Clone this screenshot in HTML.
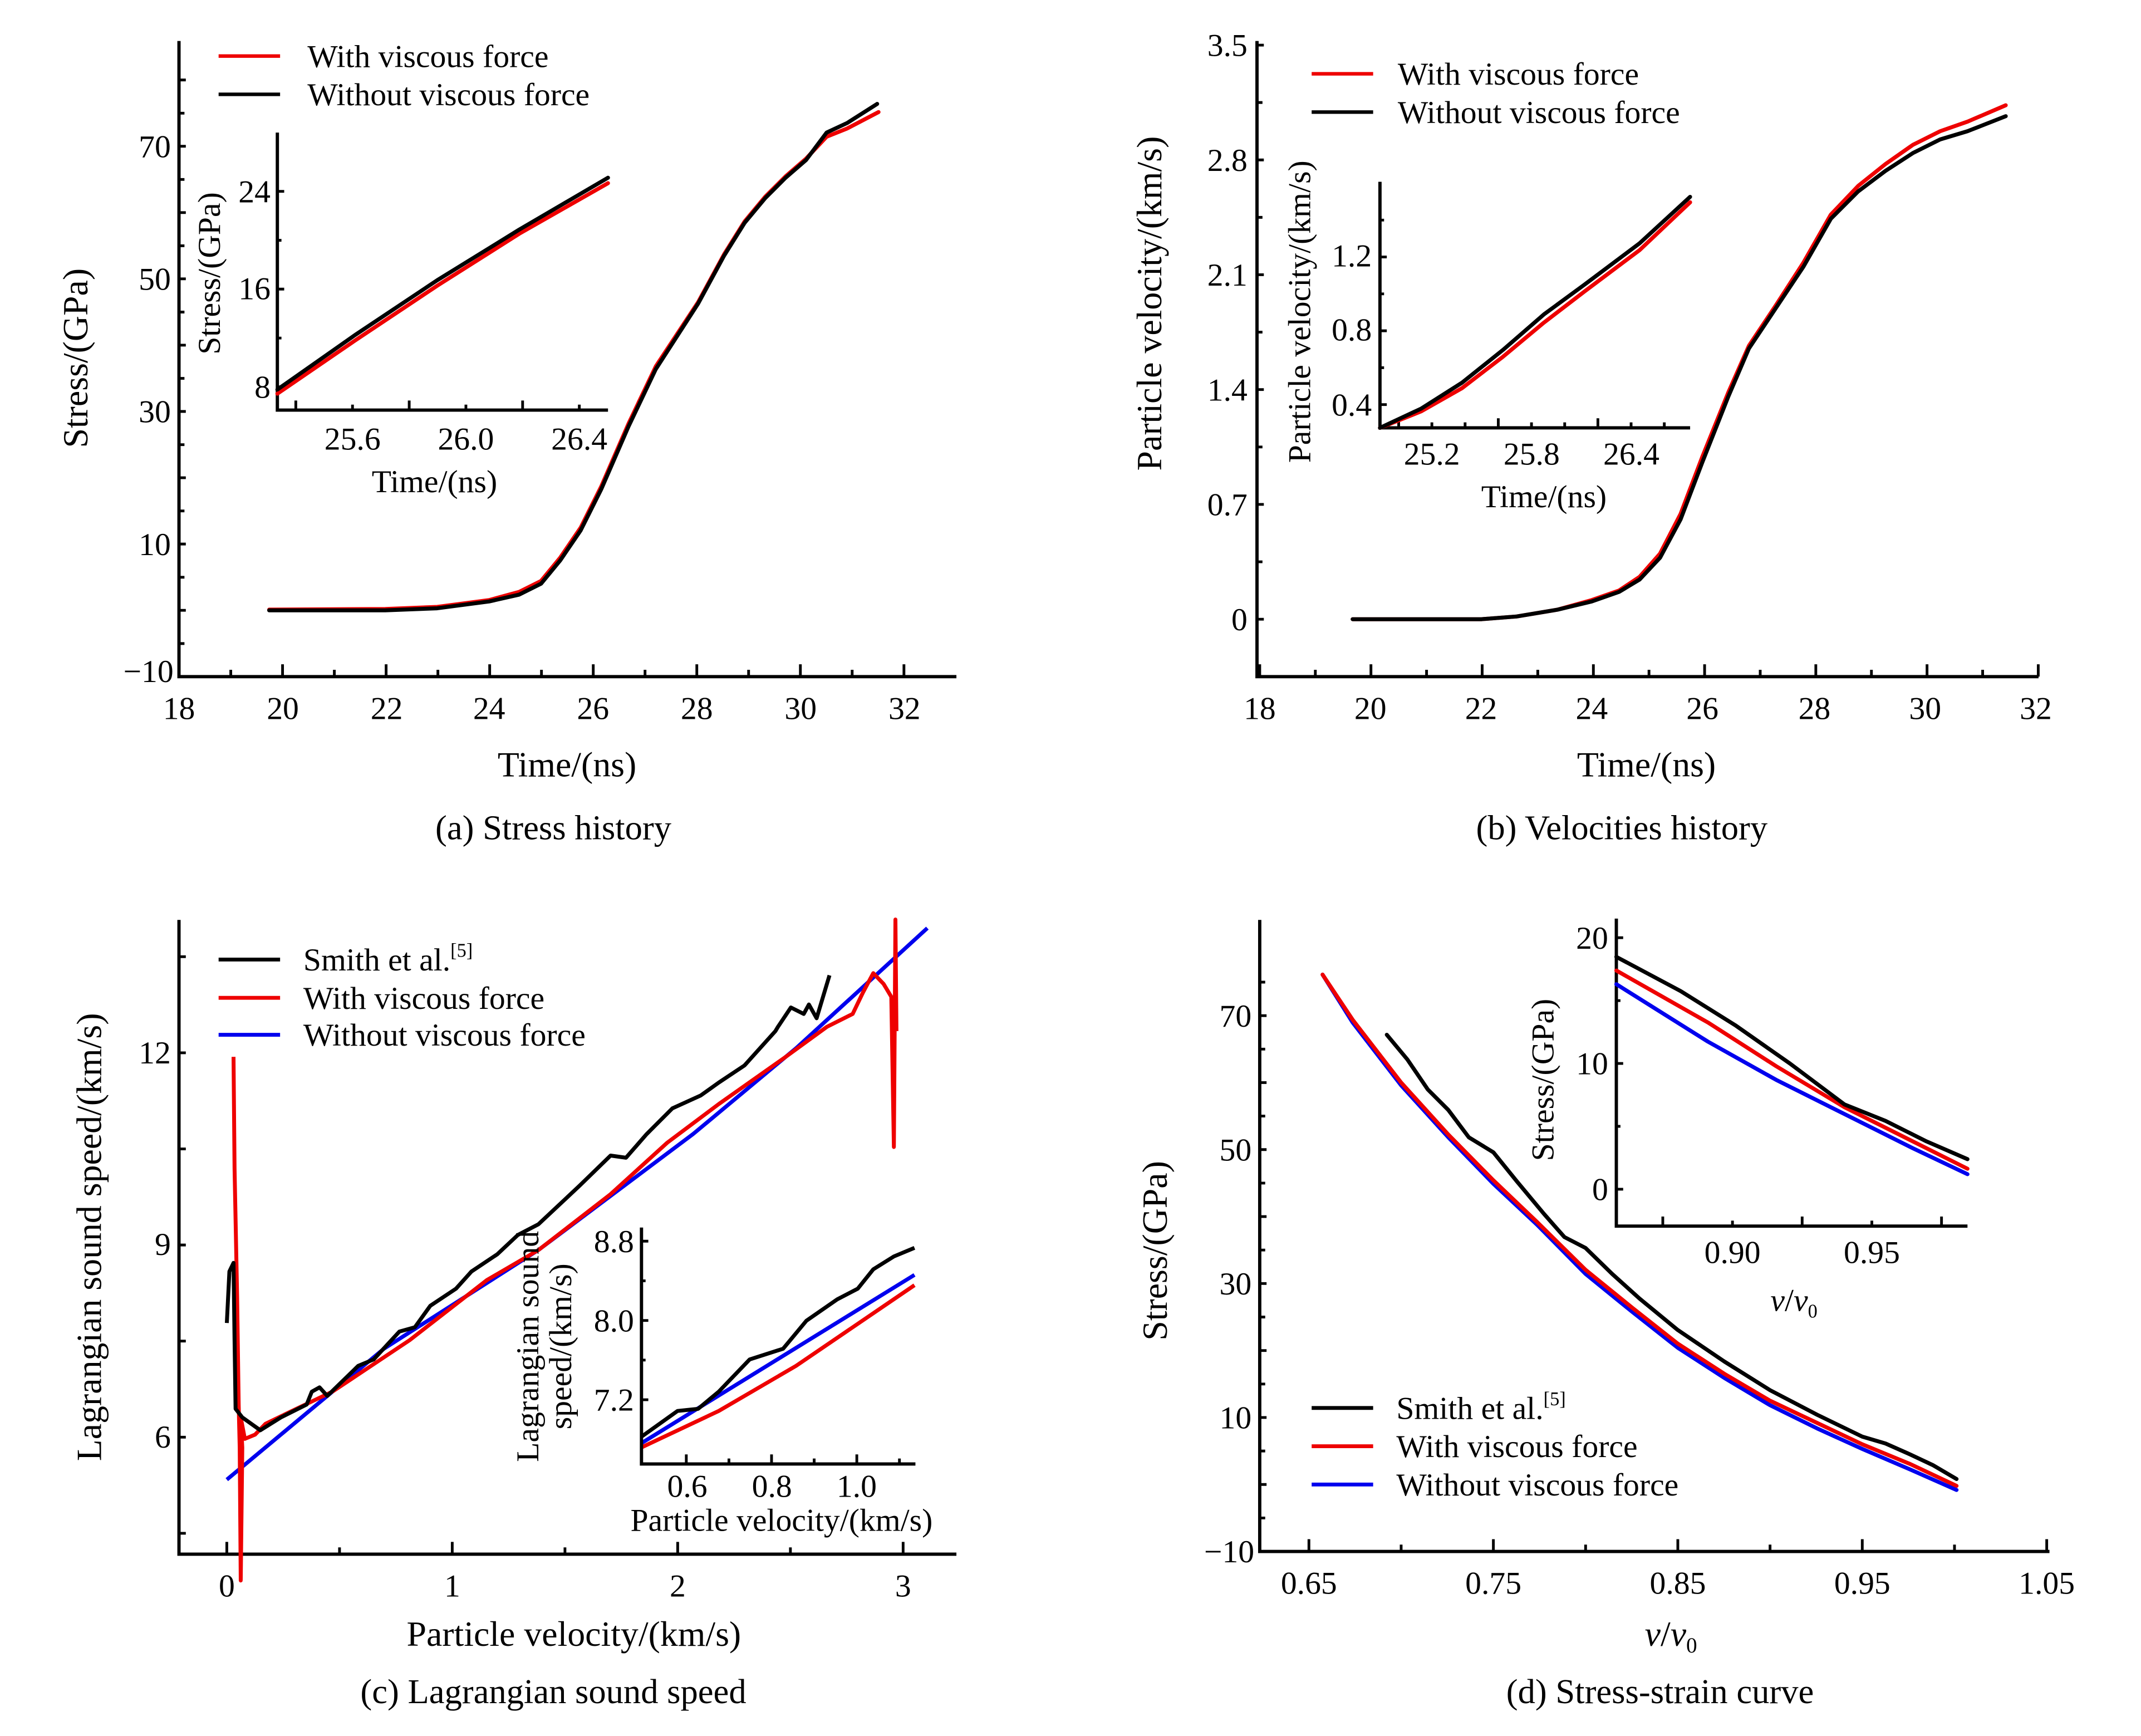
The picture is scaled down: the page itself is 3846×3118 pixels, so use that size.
<!DOCTYPE html>
<html><head><meta charset="utf-8"><style>
html,body{margin:0;padding:0;background:#fff;}
svg{display:block;}
text{font-family:"Liberation Serif","Times New Roman",serif;fill:#000;}
.t{font-size:23.5px;}
.l{font-size:26px;}
.c{font-size:25.5px;}
.ax{fill:none;stroke:#000;stroke-width:2.4;}
.k{stroke:#000;stroke-width:2;fill:none;}
.s{fill:none;stroke-width:2.9;stroke-linejoin:round;stroke-linecap:round;}
.ns{fill:none;stroke-width:7;stroke-linejoin:round;vector-effect:non-scaling-stroke;}
</style></head><body>
<svg width="3846" height="3118" viewBox="0 0 1567 1270" preserveAspectRatio="none" xmlns="http://www.w3.org/2000/svg">
<g id="ticks"></g>
<!-- ================= Panel (a) ================= -->
<path class="ax" d="M131,30 V495 H700"/>
<g class="t" text-anchor="end">
<text x="125" y="115">70</text><text x="125" y="212">50</text><text x="125" y="309">30</text><text x="125" y="406">10</text><text x="127" y="499">−10</text>
</g>
<g class="t" text-anchor="middle">
<text x="131" y="526">18</text><text x="207" y="526">20</text><text x="283" y="526">22</text><text x="358" y="526">24</text><text x="434" y="526">26</text><text x="510" y="526">28</text><text x="586" y="526">30</text><text x="662" y="526">32</text>
</g>
<text class="l" x="415" y="568" text-anchor="middle">Time/(ns)</text>
<text class="l" transform="translate(64,262) rotate(-90)" text-anchor="middle">Stress/(GPa)</text>
<text class="c" x="405" y="614" text-anchor="middle">(a) Stress history</text>
<line x1="160" y1="41" x2="205" y2="41" stroke="#e00" stroke-width="2.6"/>
<line x1="160" y1="69" x2="205" y2="69" stroke="#000" stroke-width="2.6"/>
<text class="t" x="225" y="49">With viscous force</text>
<text class="t" x="225" y="77">Without viscous force</text>
<polyline class="s" stroke="#e00" points="197,446 282,445.5 320,444 358,439 380,433 396,425 410,408 425,386 440,356 460,310 480,268 511,221 530,186 545,162 560,144 575,129 590,116 605,100 620,94 643,82"/>
<polyline class="s" stroke="#000" points="197,446.5 282,446.5 320,445 358,440 380,435 396,427 410,410 425,388 440,358 460,312 480,270 511,222 530,187 545,163 560,145 575,130 590,117 605,97 620,90 642,76"/>
<!-- inset a -->
<path class="ax" d="M203,97 V300 H445"/>
<g class="t" text-anchor="end"><text x="198" y="148">24</text><text x="198" y="219">16</text><text x="198" y="291">8</text></g>
<g class="t" text-anchor="middle"><text x="258" y="329">25.6</text><text x="341" y="329">26.0</text><text x="424" y="329">26.4</text></g>
<text class="t" x="318" y="360" text-anchor="middle">Time/(ns)</text>
<text class="t" transform="translate(161,200) rotate(-90)" text-anchor="middle">Stress/(GPa)</text>
<polyline class="s" stroke="#e00" points="203,288 260,249 320,209 380,171 445,134"/>
<polyline class="s" stroke="#000" points="203,285 260,245 320,205 380,168 445,130"/>

<!-- ================= Panel (b) ================= -->
<path class="ax" d="M920,30 V495 H1492"/>
<g class="t" text-anchor="end">
<text x="913" y="41">3.5</text><text x="913" y="125">2.8</text><text x="913" y="209">2.1</text><text x="913" y="293">1.4</text><text x="913" y="377">0.7</text><text x="913" y="461">0</text>
</g>
<g class="t" text-anchor="middle">
<text x="922" y="526">18</text><text x="1003" y="526">20</text><text x="1084" y="526">22</text><text x="1165" y="526">24</text><text x="1246" y="526">26</text><text x="1328" y="526">28</text><text x="1409" y="526">30</text><text x="1490" y="526">32</text>
</g>
<text class="l" x="1205" y="568" text-anchor="middle">Time/(ns)</text>
<text class="l" transform="translate(850,222) rotate(-90)" text-anchor="middle">Particle velocity/(km/s)</text>
<text class="c" x="1187" y="614" text-anchor="middle">(b) Velocities history</text>
<line x1="960" y1="54" x2="1005" y2="54" stroke="#e00" stroke-width="2.6"/>
<line x1="960" y1="82" x2="1005" y2="82" stroke="#000" stroke-width="2.6"/>
<text class="t" x="1023" y="62">With viscous force</text>
<text class="t" x="1023" y="90">Without viscous force</text>
<polyline class="s" stroke="#e00" points="990,453 1084,453 1110,451 1140,446 1165,439 1185,432 1200,422 1215,405 1230,376 1246,334 1265,287 1280,253 1300,223 1320,192 1340,157 1360,136 1380,120 1400,106 1420,96 1440,89 1468,77"/>
<polyline class="s" stroke="#000" points="990,453 1084,453 1110,451 1140,446 1165,440 1185,433 1200,424 1215,408 1230,380 1246,338 1265,290 1280,255 1300,225 1320,195 1340,160 1360,140 1380,125 1400,112 1420,102 1440,96 1468,85"/>
<!-- inset b -->
<path class="ax" d="M1010,133 V313 H1237"/>
<g class="t" text-anchor="end"><text x="1004" y="195">1.2</text><text x="1004" y="249">0.8</text><text x="1004" y="304">0.4</text></g>
<g class="t" text-anchor="middle"><text x="1048" y="340">25.2</text><text x="1121" y="340">25.8</text><text x="1194" y="340">26.4</text></g>
<text class="t" x="1130" y="371" text-anchor="middle">Time/(ns)</text>
<text class="t" transform="translate(959,228) rotate(-90)" text-anchor="middle">Particle velocity/(km/s)</text>
<polyline class="s" stroke="#e00" points="1010,313 1040,301 1070,284 1100,261 1130,236 1160,213 1200,183 1237,148"/>
<polyline class="s" stroke="#000" points="1010,313 1040,299 1070,280 1100,256 1130,230 1160,208 1200,178 1237,144"/>

<!-- ================= Panel (c) ================= -->
<path class="ax" d="M131,673 V1137 H700"/>
<g class="t" text-anchor="end"><text x="125" y="778">12</text><text x="125" y="918">9</text><text x="125" y="1059">6</text></g>
<g class="t" text-anchor="middle"><text x="166" y="1168">0</text><text x="331" y="1168">1</text><text x="496" y="1168">2</text><text x="661" y="1168">3</text></g>
<text class="l" x="420" y="1204" text-anchor="middle">Particle velocity/(km/s)</text>
<text class="l" transform="translate(74,905) rotate(-90)" text-anchor="middle">Lagrangian sound speed/(km/s)</text>
<text class="c" x="405" y="1246" text-anchor="middle">(c) Lagrangian sound speed</text>
<line x1="160" y1="702" x2="205" y2="702" stroke="#000" stroke-width="2.8"/>
<line x1="160" y1="730" x2="205" y2="730" stroke="#e00" stroke-width="2.8"/>
<line x1="160" y1="757" x2="205" y2="757" stroke="#00e" stroke-width="2.8"/>
<text class="t" x="222" y="710">Smith et al.<tspan font-size="14" dy="-10">[5]</tspan></text>
<text class="t" x="222" y="738">With viscous force</text>
<text class="t" x="222" y="765">Without viscous force</text>
<g transform="translate(130.2,666.4) scale(0.377,0.314)">
<polyline class="ns" stroke="#00e" points="95,1325 400,1020 700,790 1000,520 1200,320 1455,40"/>
<polyline class="ns" stroke="#e00" points="108,340 110,600 115,900 118,1150 120,1250 122,1560 125,1250 122,1180 130,1230 150,1220 170,1195 230,1160 300,1120 450,1000 600,860 700,790 840,660 950,540 1050,450 1180,340 1260,270 1310,240 1330,190 1350,145 1370,170 1385,200 1390,550 1393,20 1395,280"/>
<polyline class="ns" stroke="#000" points="95,960 100,840 108,820 110,1000 112,1160 125,1180 160,1210 200,1180 250,1150 260,1120 275,1110 290,1130 350,1060 380,1045 430,980 460,970 490,920 540,880 570,840 620,800 660,755 700,730 780,640 840,570 870,575 910,520 960,460 1015,430 1050,400 1100,360 1160,280 1165,270 1190,225 1215,240 1225,218 1240,250 1265,150"/>
<polyline class="ns" stroke="#e00" points="900,1250 1050,1165 1200,1060 1430,872"/>
<polyline class="ns" stroke="#00e" points="900,1240 1430,848"/>
<polyline class="ns" stroke="#000" points="900,1225 970,1165 1010,1160 1050,1120 1110,1045 1175,1020 1220,955 1280,905 1320,880 1350,835 1390,805 1430,785"/>
</g>
<path class="ax" d="M469.5,898 V1071 H670"/>
<g class="t" text-anchor="end"><text x="464" y="916">8.8</text><text x="464" y="974">8.0</text><text x="464" y="1032">7.2</text></g>
<g class="t" text-anchor="middle"><text x="503" y="1095">0.6</text><text x="565" y="1095">0.8</text><text x="627" y="1095">1.0</text></g>
<text class="t" x="572" y="1120" text-anchor="middle">Particle velocity/(km/s)</text>
<text class="t" transform="translate(394,985) rotate(-90)" text-anchor="middle">Lagrangian sound</text>
<text class="t" transform="translate(418,985) rotate(-90)" text-anchor="middle">speed/(km/s)</text>

<!-- ================= Panel (d) ================= -->
<path class="ax" d="M922,673 V1135 H1500"/>
<g class="t" text-anchor="end">
<text x="916" y="751">70</text><text x="916" y="849">50</text><text x="916" y="947">30</text><text x="916" y="1045">10</text><text x="918" y="1143">−10</text>
</g>
<g class="t" text-anchor="middle"><text x="958" y="1166">0.65</text><text x="1093" y="1166">0.75</text><text x="1228" y="1166">0.85</text><text x="1363" y="1166">0.95</text><text x="1498" y="1166">1.05</text></g>
<text class="l" x="1223" y="1204" text-anchor="middle"><tspan font-style="italic">v</tspan>/<tspan font-style="italic">v</tspan><tspan font-size="16" dy="5">0</tspan></text>
<text class="l" transform="translate(854,915) rotate(-90)" text-anchor="middle">Stress/(GPa)</text>
<text class="c" x="1215" y="1246" text-anchor="middle">(d) Stress-strain curve</text>
<line x1="960" y1="1030" x2="1005" y2="1030" stroke="#000" stroke-width="2.8"/>
<line x1="960" y1="1058" x2="1005" y2="1058" stroke="#e00" stroke-width="2.8"/>
<line x1="960" y1="1086" x2="1005" y2="1086" stroke="#00e" stroke-width="2.8"/>
<text class="t" x="1022" y="1038">Smith et al.<tspan font-size="14" dy="-10">[5]</tspan></text>
<text class="t" x="1022" y="1066">With viscous force</text>
<text class="t" x="1022" y="1094">Without viscous force</text>
<polyline class="s" stroke="#00e" points="968,713 990,748 1025.5,794 1060,832 1093,866 1125,896 1160.5,932 1195,960 1228,986 1262,1008 1295.5,1028 1330,1045 1363,1060 1398,1075 1432,1090"/>
<polyline class="s" stroke="#e00" points="968,713 990,746 1025.5,792 1060,830 1093,863.5 1125,894 1160.5,929 1195,957 1228,983 1262,1005 1295.5,1024.7 1330,1041 1363,1056.6 1398,1071 1432,1087"/>
<polyline class="s" stroke="#000" points="1015,757 1030,775 1045,797 1060,812 1075,832 1093,843 1110,864 1130,888 1145,905 1160.5,913 1180,932 1200,950 1228,973 1262,996 1295.5,1017 1330,1035 1363,1051 1380,1056 1398,1064 1415,1072 1432,1082"/>
<!-- inset d -->
<path class="ax" d="M1183,672 V897 H1440"/>
<g class="t" text-anchor="end"><text x="1177" y="694">20</text><text x="1177" y="786">10</text><text x="1177" y="878">0</text></g>
<g class="t" text-anchor="middle"><text x="1268" y="924">0.90</text><text x="1370" y="924">0.95</text></g>
<text class="t" x="1313" y="959" text-anchor="middle"><tspan font-style="italic">v</tspan>/<tspan font-style="italic">v</tspan><tspan font-size="14" dy="5">0</tspan></text>
<text class="t" transform="translate(1137,790) rotate(-90)" text-anchor="middle">Stress/(GPa)</text>
<polyline class="s" stroke="#00e" points="1183,720 1250,762 1300,790 1350,815 1400,840 1440,859"/>
<polyline class="s" stroke="#e00" points="1183,710 1250,748 1300,780 1350,810 1400,835 1440,855"/>
<polyline class="s" stroke="#000" points="1183,700 1230,725 1270,750 1310,778 1350,808 1380,820 1410,835 1440,848"/>
</svg>
<script>
(function(){
var d="";
function xt(y,x0,step,n,majEvery,lm,ln){for(var i=0;i<n;i++){var x=x0+i*step;var L=(i%majEvery==0)?lm:ln;d+="M"+x.toFixed(1)+","+y+"v"+(-L);}}
function yt(x,y0,step,n,majEvery,lm,ln){for(var i=0;i<n;i++){var y=y0-i*step;var L=(i%majEvery==0)?lm:ln;d+="M"+x+","+y.toFixed(1)+"h"+L;}}
xt(495,131,37.9,15,2,9,5); yt(131,495,24.25,19,2,5,4);
xt(300,216.5,41.5,6,2,7,4); yt(203,283,35.75,5,2,5,3);
xt(495,922,40.7,15,2,9,5); yt(920,453,42,11,2,5,4);
xt(313,1023.7,24.3,9,3,7,4); yt(1010,296,27,6,2,5,3);
xt(1137,166,82.5,7,2,9,5); yt(131,1121.7,70.3,7,1,5,5);
xt(1071,502.3,31.2,6,2,7,4); yt(469.5,1024,29,5,2,5,3);
xt(1135,958,67.5,9,2,9,5); yt(922,1135,24.5,18,2,5,4);
xt(897,1217,51,5,2,7,4); yt(1183,870,46,5,2,5,3);
var p=document.createElementNS("http://www.w3.org/2000/svg","path");
p.setAttribute("d",d);p.setAttribute("class","k");
document.getElementById("ticks").appendChild(p);
})();
</script>
</body></html>
